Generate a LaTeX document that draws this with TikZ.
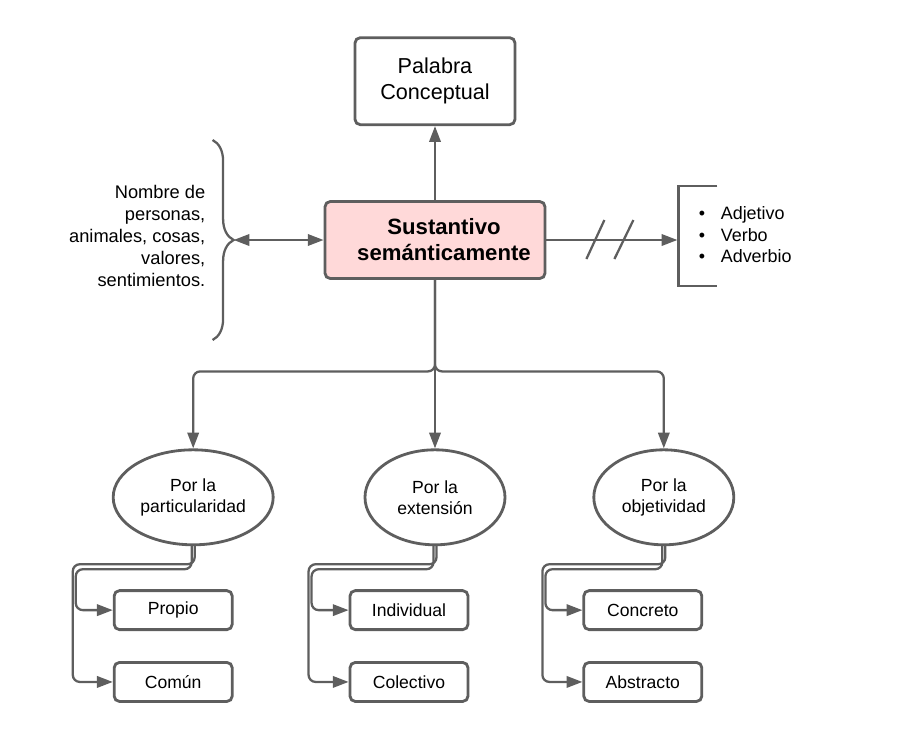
\documentclass[tikz,border=0pt]{standalone}
\usepackage{fontspec}
\setmainfont{Liberation Sans}
\usepackage{xcolor}
\usepackage{tikz}
\usetikzlibrary{positioning,shapes.geometric,arrows.meta,decorations.pathreplacing}
\definecolor{linegray}{HTML}{5E5E5E}
\definecolor{sustpink}{HTML}{FFD9D9}

\begin{document}
\begin{tikzpicture}[
		empty/.style={coordinate},
		block/.style={rectangle, rounded corners=3pt, draw=linegray, fill=white, line width=1.6pt, align=center, font=\fontsize{12.3}{14.7}\selectfont},
		mainblock/.style={block, fill=sustpink, font=\bfseries\fontsize{12.6}{14.8}\selectfont, minimum width=4.4cm, minimum height=1.54cm},
		oval/.style={ellipse, draw=linegray, line width=1.6pt, inner sep=0pt, align=center, minimum height=1.9cm, font=\fontsize{10}{12}\selectfont},
		leaf/.style={rectangle, rounded corners=3pt, draw=linegray, line width=1.6pt, minimum width=2.36cm, minimum height=0.78cm, font=\fontsize{10}{12}\selectfont},
		plain/.style={inner sep=0pt, font=\fontsize{10.4}{12.4}\selectfont},
		conn/.style={draw=linegray, line width=1.3pt},
		arr/.style={conn, -{Triangle[length=9pt,width=6.5pt]}, rounded corners=4pt},
		arrboth/.style={conn, {Triangle[length=9pt,width=6.5pt]}-{Triangle[length=9pt,width=6.5pt]}},
		]
		\useasboundingbox (-8.7,4.8) rectangle (9.26,-10.0);

		%Main Nodes
		\node[mainblock]	(sust)	at (0,0)	{\hspace*{0.36cm}Sustantivo\\\hspace*{0.36cm}semánticamente};
		\node[block, minimum width=3.2cm, minimum height=1.74cm]	(palabra)	[above=1.48cm of sust]	{Palabra\\Conceptual};
		\draw[arr]	(sust.north)	--	(palabra.south);

		%Nombres
		\node[empty]	(bt)	[left=1.8cm of sust.west]	{};
		\node[empty]	(br_t)	[above left=2cm and 0.42cm of bt]	{};
		\node[empty]	(br_b)	[below left=2cm and 0.42cm of bt]	{};
		\draw[conn, decorate, decoration={brace, amplitude=0.42cm}]	(br_t) -- (br_b);
		\node[plain, align=right]	(nombres)	[left=0.56cm of bt, yshift=0.08cm]	{Nombre de\\personas,\\animales, cosas,\\valores,\\sentimientos.};
		\draw[arrboth]	(bt)	--	(sust.west);

		%Otras clases
		\node[empty]	(brk)	[right=2.62cm of sust.east]	{};
		\draw[arr]	(sust.east)	--	(brk);
		\draw[conn]	(sust.east) ++(0.8,-0.38) -- ++(0.36,0.78);
		\draw[conn]	(sust.east) ++(1.36,-0.38) -- ++(0.38,0.78);
		\draw[conn]	(brk) ++(0.8,1.08) -- ++(-0.78,0) -- ++(0,-2) -- ++(0.78,0);
		\node[plain, align=left, font=\fontsize{10.2}{12.2}\selectfont]	(otras)	[right=0.42cm of brk, yshift=0.1cm]	{\textbullet\hspace{9pt}Adjetivo\\\textbullet\hspace{9pt}Verbo\\\textbullet\hspace{9pt}Adverbio};

		%Clasificacion
		\node[empty]	(split)	[below=1.83cm of sust]	{};
		\node[oval, minimum width=2.8cm]	(ext)	[below=3.37cm of sust]	{Por la\\extensión};
		\node[oval, minimum width=3.2cm]	(part)	[left=1.78cm of ext]	{Por la\\particularidad};
		\node[oval, minimum width=2.8cm]	(obj)	[right=1.72cm of ext]	{Por la\\objetividad};
		\draw[arr]	(sust.south)	--	(ext.north);
		\draw[arr]	(sust.south)	--	(split)	-|	(part.north);
		\draw[arr]	(sust.south)	--	(split)	-|	(obj.north);

		%Particularidad
		\node[leaf]	(propio)	[below=0.86cm of part, xshift=-0.4cm]	{Propio};
		\node[leaf]	(comun)	[below=0.6cm of propio]	{Común};
		\draw[arr]	([xshift=0.03cm]part.south) -- ++(0,-0.36) -| ([xshift=-0.8cm]comun.west) -- (comun.west);
		\draw[arr]	([xshift=-0.03cm]part.south) -- ++(0,-0.46) -| ([xshift=-0.74cm]propio.west) -- (propio.west);

		%Extension
		\node[leaf]	(indiv)	[below=0.86cm of ext, xshift=-0.52cm]	{Individual};
		\node[leaf]	(colec)	[below=0.6cm of indiv]	{Colectivo};
		\draw[arr]	([xshift=0.03cm]ext.south) -- ++(0,-0.36) -| ([xshift=-0.8cm]colec.west) -- (colec.west);
		\draw[arr]	([xshift=-0.03cm]ext.south) -- ++(0,-0.46) -| ([xshift=-0.74cm]indiv.west) -- (indiv.west);

		%Objetividad
		\node[leaf]	(concr)	[below=0.86cm of obj, xshift=-0.42cm]	{Concreto};
		\node[leaf]	(abstr)	[below=0.6cm of concr]	{Abstracto};
		\draw[arr]	([xshift=0.03cm]obj.south) -- ++(0,-0.36) -| ([xshift=-0.8cm]abstr.west) -- (abstr.west);
		\draw[arr]	([xshift=-0.03cm]obj.south) -- ++(0,-0.46) -| ([xshift=-0.74cm]concr.west) -- (concr.west);
	\end{tikzpicture}
\end{document}
